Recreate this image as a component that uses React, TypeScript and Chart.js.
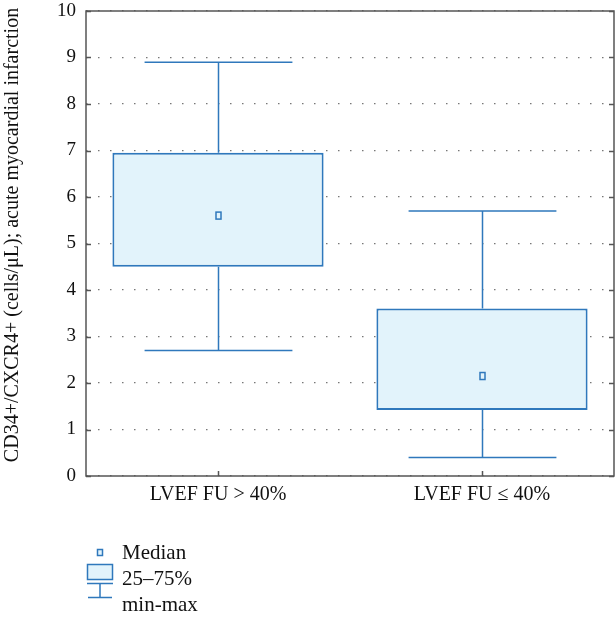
import React, { useEffect, useRef } from "react";
import { Chart, registerables } from "chart.js";

Chart.register(...registerables);

const categories = ["LVEF FU > 40%", "LVEF FU \u2264 40%"];
const minValues = [2.7, 0.4];
const q1Values = [4.5, 1.42];
const medianValues = [5.6, 2.15];
const q3Values = [6.95, 3.6];
const maxValues = [8.9, 5.7];
const yTicks = [0, 1, 2, 3, 4, 5, 6, 7, 8, 9, 10];
const yTitle = "CD34+/CXCR4+ (cells/\u03bcL); acute myocardial infarction";
const legendLabels = ["Median", "25\u201375%", "min-max"];

const BLUE = "#2f78bc";
const FILL = "#e2f3fb";
const FONT = "'Liberation Serif', 'DejaVu Serif', serif";

const boxPlugin = {
  id: "boxExtras",
  beforeDatasetsDraw(chart: any) {
    const { ctx } = chart;
    const x = chart.scales.x;
    const y = chart.scales.y;
    ctx.save();
    ctx.strokeStyle = BLUE;
    ctx.lineWidth = 1.5;
    categories.forEach((_, i) => {
      const cx = Math.round(x.getPixelForValue(i)) + 0.5;
      const half = (x.getPixelForValue(1) - x.getPixelForValue(0)) * 0.28;
      const yMin = y.getPixelForValue(minValues[i]);
      const yMax = y.getPixelForValue(maxValues[i]);
      const yQ1 = y.getPixelForValue(q1Values[i]);
      const yQ3 = y.getPixelForValue(q3Values[i]);
      ctx.beginPath();
      ctx.moveTo(cx, yMax);
      ctx.lineTo(cx, yQ3);
      ctx.moveTo(cx, yQ1);
      ctx.lineTo(cx, yMin);
      ctx.moveTo(cx - half, yMax);
      ctx.lineTo(cx + half, yMax);
      ctx.moveTo(cx - half, yMin);
      ctx.lineTo(cx + half, yMin);
      ctx.stroke();
    });
    ctx.restore();
  },
  afterDatasetsDraw(chart: any) {
    const { ctx, chartArea } = chart;
    const x = chart.scales.x;
    const y = chart.scales.y;
    ctx.save();
    ctx.strokeStyle = BLUE;
    ctx.fillStyle = FILL;
    ctx.lineWidth = 1.5;
    categories.forEach((_, i) => {
      const cx = Math.round(x.getPixelForValue(i)) + 0.5;
      const cy = y.getPixelForValue(medianValues[i]);
      ctx.fillRect(cx - 2.5, cy - 3.5, 5, 7);
      ctx.strokeRect(cx - 2.5, cy - 3.5, 5, 7);
    });
    ctx.strokeStyle = "#555";
    ctx.lineWidth = 1.5;
    ctx.strokeRect(chartArea.left, chartArea.top, chartArea.right - chartArea.left, chartArea.bottom - chartArea.top);
    ctx.beginPath();
    yTicks.forEach((t) => {
      const py = Math.round(y.getPixelForValue(t)) + 0.5;
      ctx.moveTo(chartArea.left, py);
      ctx.lineTo(chartArea.left + 5, py);
      ctx.moveTo(chartArea.right, py);
      ctx.lineTo(chartArea.right - 5, py);
    });
    categories.forEach((_, i) => {
      const px = Math.round(x.getPixelForValue(i)) + 0.5;
      ctx.moveTo(px, chartArea.bottom);
      ctx.lineTo(px, chartArea.bottom - 5);
    });
    ctx.stroke();
    ctx.restore();
  },
  afterDraw(chart: any) {
    const { ctx } = chart;
    ctx.save();
    // y-axis title
    ctx.fillStyle = "#111";
    ctx.font = `20px ${FONT}`;
    ctx.textAlign = "center";
    ctx.textBaseline = "middle";
    ctx.translate(13, 235);
    ctx.rotate(-Math.PI / 2);
    ctx.fillText(yTitle, 0, 0);
    ctx.restore();

    ctx.save();
    ctx.strokeStyle = BLUE;
    ctx.fillStyle = FILL;
    ctx.lineWidth = 1.5;
    ctx.fillRect(97.5, 549.5, 5, 6);
    ctx.strokeRect(97.5, 549.5, 5, 6);
    ctx.fillRect(87.5, 564.5, 25, 15);
    ctx.strokeRect(87.5, 564.5, 25, 15);
    ctx.beginPath();
    ctx.moveTo(87, 583.5);
    ctx.lineTo(113, 583.5);
    ctx.moveTo(100, 583.5);
    ctx.lineTo(100, 597.5);
    ctx.moveTo(88, 597.5);
    ctx.lineTo(112, 597.5);
    ctx.stroke();
    ctx.fillStyle = "#111";
    ctx.font = `21px ${FONT}`;
    ctx.textBaseline = "alphabetic";
    ctx.textAlign = "left";
    ctx.fillText(legendLabels[0], 122, 559);
    ctx.fillText(legendLabels[1], 122, 585);
    ctx.fillText(legendLabels[2], 122, 611);
    ctx.restore();
  },
};

export default function App() {
  const ref = useRef<HTMLCanvasElement | null>(null);
  useEffect(() => {
    document.body.style.margin = "0";
    const canvas = ref.current!;
    const chart = new Chart(canvas, {
      type: "bar",
      data: {
        labels: categories,
        datasets: [
          {
            data: categories.map((_, i) => [q1Values[i], q3Values[i]]) as any,
            backgroundColor: FILL,
            borderColor: BLUE,
            borderWidth: 2,
            borderSkipped: false,
            barPercentage: 0.8,
            categoryPercentage: 1,
          },
        ],
      },
      options: {
        animation: false,
        responsive: false,
        devicePixelRatio: 1,
        layout: { padding: { top: 11, right: 2, left: 0, bottom: 0 } },
        plugins: { legend: { display: false }, tooltip: { enabled: false } },
        scales: {
          x: {
            grid: { display: false, drawTicks: false },
            border: { display: false },
            ticks: { color: "#111", font: { family: FONT, size: 20 }, padding: 7 },
            afterFit: (s: any) => {
              s.height = 141;
              s.paddingLeft = 0;
              s.paddingRight = 0;
            },
          },
          y: {
            min: 0,
            max: 10,
            grid: {
              color: "#777",
              lineWidth: 1.3,
              drawTicks: false,
            },
            border: { display: false, dash: [1.5, 10.5] },
            ticks: {
              stepSize: 1,
              color: "#111",
              font: { family: FONT, size: 19 },
              padding: 10,
            },
            title: { display: false },
            afterFit: (s: any) => {
              s.width = 86;
              s.paddingTop = 0;
              s.paddingBottom = 0;
            },
          },
        },
      },
      plugins: [boxPlugin],
    });
    return () => chart.destroy();
  }, []);
  return <canvas ref={ref} width={616} height={617} style={{ display: "block" }} />;
}
